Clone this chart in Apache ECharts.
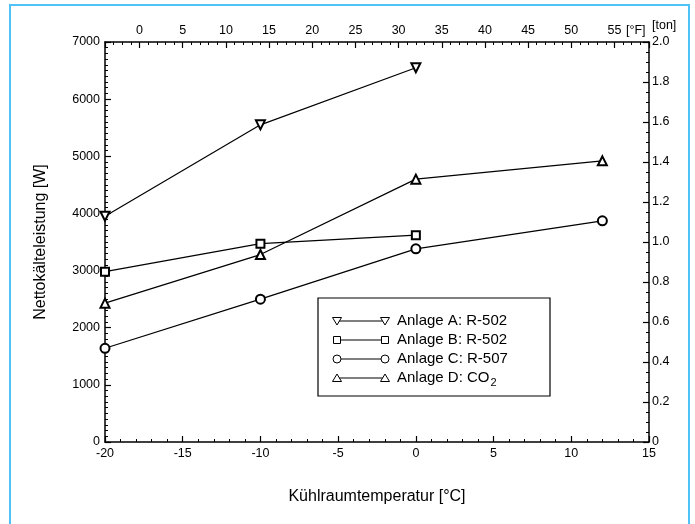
<!DOCTYPE html>
<html><head><meta charset="utf-8">
<script src="https://cdn.jsdelivr.net/npm/echarts@6/dist/echarts.min.js"></script>
<style>html,body{margin:0;padding:0;background:#fff}#c{width:695px;height:524px}</style>
</head><body><div id="c"></div>
<script>
// Data (°C, W)
const tempA = [-20, -10, 0];
const powerA = [3950, 5550, 6550];
const tempB = [-20, -10, 0];
const powerB = [2980, 3470, 3620];
const tempC = [-20, -10, 0, 12];
const powerC = [1640, 2500, 3380, 3870];
const tempD = [-20, -10, 0, 12];
const powerD = [2430, 3280, 4600, 4920];
const seriesNames = ['Anlage A: R-502', 'Anlage B: R-502', 'Anlage C: R-507', 'Anlage D: CO{sub|2}'];

const FONT = 'Liberation Sans, Arial, sans-serif';
const pairs = (xs, ys) => xs.map((x, i) => [x, ys[i]]);

const chart = echarts.init(document.getElementById('c'));
const axisCommon = {
  axisLine: {show: true, onZero: false, lineStyle: {color: '#000', width: 1.5}},
  axisTick: {show: true, inside: true, length: 6, lineStyle: {color: '#000', width: 1.2}},
  minorTick: {show: true, length: 3, lineStyle: {color: '#000', width: 1}},
  splitLine: {show: false},
  axisLabel: {color: '#000', fontFamily: FONT, fontSize: 12.5}
};
function mkSeries(name, xs, ys, sym, rot) {
  return {
    name, type: 'line', data: pairs(xs, ys), symbol: sym, symbolSize: sym === 'emptyRect' ? 8 : 9,
    symbolRotate: rot || 0, xAxisIndex: 0, yAxisIndex: 0,
    lineStyle: {color: '#000', width: 1.2}, itemStyle: {color: '#000', borderWidth: 1},
    animation: false, z: 3
  };
}
// legend graphic (decoration)
const lgX0 = 337, lgX1 = 385, lgTextX = 397, rows = [321, 340, 359, 378];
function marker(kind, cx, cy) {
  const st = {fill: '#fff', stroke: '#000', lineWidth: 1};
  if (kind === 'down') return {type: 'polygon', shape: {points: [[cx-4.5, cy-3.5], [cx+4.5, cy-3.5], [cx, cy+4]]}, style: st, z: 101};
  if (kind === 'up') return {type: 'polygon', shape: {points: [[cx-4.5, cy+3.5], [cx+4.5, cy+3.5], [cx, cy-4]]}, style: st, z: 101};
  if (kind === 'rect') return {type: 'rect', shape: {x: cx-3.5, y: cy-3.5, width: 7, height: 7}, style: st, z: 101};
  return {type: 'circle', shape: {cx, cy, r: 4}, style: st, z: 101};
}
const kinds = ['down', 'rect', 'circle', 'up'];
const legendEls = [{type: 'rect', shape: {x: 318, y: 298, width: 232, height: 98}, style: {fill: '#fff', stroke: '#000', lineWidth: 1.2}, z: 100}];
rows.forEach((y, i) => {
  legendEls.push({type: 'line', shape: {x1: lgX0, y1: y, x2: lgX1, y2: y}, style: {stroke: '#000', lineWidth: 1.1}, z: 100});
  legendEls.push(marker(kinds[i], lgX0, y));
  legendEls.push(marker(kinds[i], lgX1, y));
  legendEls.push({type: 'text', x: lgTextX, y: y, z: 101, style: {text: seriesNames[i], fill: '#000', font: '15px ' + FONT, verticalAlign: 'middle', align: 'left',
    rich: {sub: {fontSize: 11, fontFamily: FONT, padding: [9, 0, 0, 1], fill: '#000'}}}});
});

chart.setOption({
  animation: false,
  backgroundColor: '#fff',
  grid: {left: 105, top: 42, width: 544, height: 400, containLabel: false},
  xAxis: [
    Object.assign({}, axisCommon, {type: 'value', position: 'bottom', min: -20, max: 15, interval: 5,
      minorTick: Object.assign({}, axisCommon.minorTick, {splitNumber: 5}),
      axisLabel: Object.assign({}, axisCommon.axisLabel, {margin: 5}),
      name: 'Kühlraumtemperatur [°C]', nameLocation: 'middle', nameGap: 47,
      nameTextStyle: {color: '#000', fontFamily: FONT, fontSize: 16}}),
    Object.assign({}, axisCommon, {type: 'value', position: 'top', min: -4, max: 59, splitNumber: 12,
      minorTick: Object.assign({}, axisCommon.minorTick, {splitNumber: 5}),
      axisLabel: Object.assign({}, axisCommon.axisLabel, {margin: 5, showMinLabel: false, showMaxLabel: false,
        formatter: v => (Math.abs(v % 5) < 1e-6 ? String(v) : '')})})
  ],
  yAxis: [
    Object.assign({}, axisCommon, {type: 'value', position: 'left', min: 0, max: 7000, interval: 1000,
      minorTick: Object.assign({}, axisCommon.minorTick, {splitNumber: 10}),
      axisLabel: Object.assign({}, axisCommon.axisLabel, {margin: 5, formatter: v => String(v)}),
      name: 'Nettokälteleistung [W]', nameLocation: 'middle', nameGap: 56, nameRotate: 90,
      nameTextStyle: {color: '#000', fontFamily: FONT, fontSize: 16}}),
    Object.assign({}, axisCommon, {type: 'value', position: 'right', min: 0, max: 2, interval: 0.2,
      minorTick: Object.assign({}, axisCommon.minorTick, {splitNumber: 4}),
      axisLabel: Object.assign({}, axisCommon.axisLabel, {margin: 3, formatter: v => (v === 0 ? '0' : v.toFixed(1))})})
  ],
  series: [
    mkSeries('A', tempA, powerA, 'emptyTriangle', 180),
    mkSeries('B', tempB, powerB, 'emptyRect'),
    mkSeries('C', tempC, powerC, 'emptyCircle'),
    mkSeries('D', tempD, powerD, 'emptyTriangle')
  ],
  graphic: [
    {type: 'rect', shape: {x: 10, y: 5, width: 679, height: 540}, style: {fill: 'none', stroke: '#4fc3f7', lineWidth: 2}, z: 0, silent: true},
    {type: 'text', x: 626, y: 31, style: {text: '[°F]', fill: '#000', font: '12.5px ' + FONT, verticalAlign: 'middle'}},
    {type: 'text', x: 652, y: 26, style: {text: '[ton]', fill: '#000', font: '12.5px ' + FONT, verticalAlign: 'middle'}}
  ].concat(legendEls)
});
</script></body></html>
